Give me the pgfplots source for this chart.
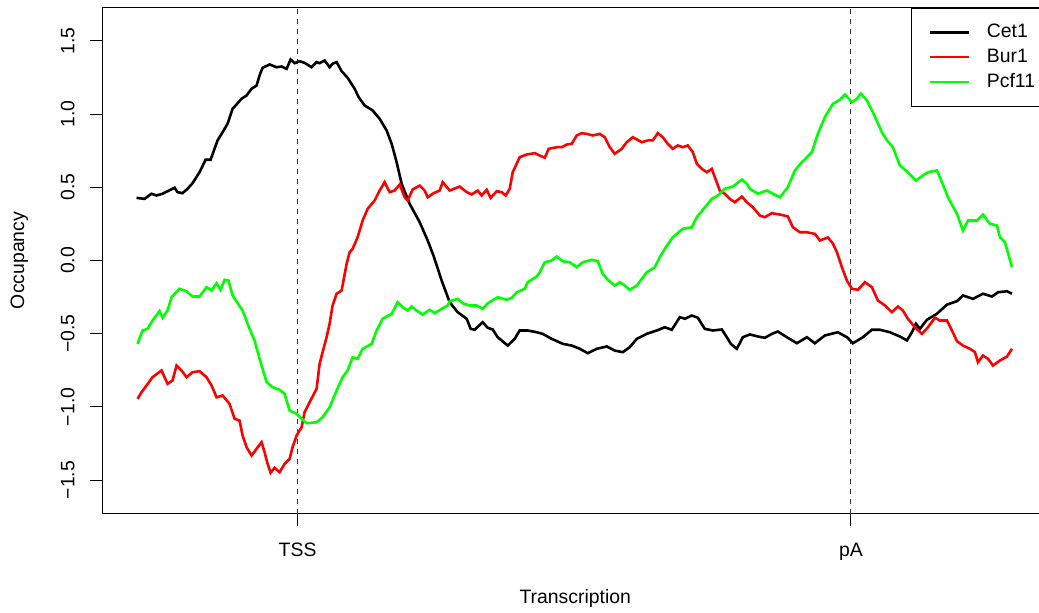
\documentclass[border=0pt]{standalone}
\usepackage{pgfplots}
\usepackage{pgfplotstable}
\pgfplotsset{compat=1.18}
\usepackage{fontspec}
\setmainfont{Liberation Sans}

% Occupancy profiles along the meta-gene (x: position, TSS at 298, pA at 851)
\pgfplotstableread{
x y
137 0.428
145 0.421
152 0.456
157 0.444
163 0.456
168 0.473
175 0.497
178 0.467
183 0.460
188 0.490
193 0.528
200 0.603
206 0.688
211 0.688
215 0.763
218 0.820
223 0.876
228 0.934
233 1.036
237 1.066
242 1.105
247 1.127
252 1.173
257 1.195
260 1.264
263 1.316
270 1.339
277 1.320
282 1.325
287 1.309
291 1.373
295 1.348
300 1.361
305 1.350
312 1.320
317 1.355
320 1.348
325 1.366
330 1.320
333 1.344
337 1.355
342 1.293
348 1.248
355 1.173
359 1.116
365 1.059
373 1.025
380 0.968
387 0.888
392 0.797
397 0.671
402 0.524
410 0.387
420 0.262
428 0.137
434 0.030
442 -0.137
450 -0.285
458 -0.353
467 -0.398
471 -0.467
475 -0.473
483 -0.421
488 -0.460
493 -0.471
498 -0.524
508 -0.581
515 -0.535
520 -0.478
528 -0.478
537 -0.490
543 -0.501
552 -0.535
563 -0.569
572 -0.581
580 -0.603
588 -0.633
597 -0.603
607 -0.587
615 -0.615
623 -0.626
630 -0.592
637 -0.535
647 -0.501
657 -0.478
665 -0.456
672 -0.473
680 -0.387
685 -0.398
692 -0.376
698 -0.391
705 -0.467
713 -0.478
722 -0.471
727 -0.524
731 -0.569
737 -0.603
743 -0.524
750 -0.505
758 -0.519
765 -0.528
772 -0.501
778 -0.485
787 -0.524
797 -0.565
807 -0.524
815 -0.565
825 -0.512
838 -0.490
847 -0.524
853 -0.565
863 -0.524
872 -0.473
880 -0.473
890 -0.490
900 -0.519
907 -0.546
912 -0.490
916 -0.432
920 -0.467
927 -0.405
937 -0.364
947 -0.301
957 -0.278
963 -0.239
973 -0.262
983 -0.227
992 -0.246
998 -0.217
1007 -0.210
1012 -0.227
}\cetone

\pgfplotstableread{
x y
138 -0.945
142 -0.900
147 -0.854
153 -0.797
162 -0.751
168 -0.842
173 -0.820
177 -0.717
182 -0.751
187 -0.797
193 -0.763
200 -0.756
207 -0.797
212 -0.854
217 -0.934
223 -0.922
230 -0.979
235 -1.081
240 -1.093
243 -1.195
247 -1.275
252 -1.332
257 -1.286
262 -1.241
265 -1.309
268 -1.389
271 -1.450
275 -1.416
280 -1.446
285 -1.389
290 -1.355
293 -1.275
297 -1.195
302 -1.139
305 -1.036
310 -0.968
317 -0.876
320 -0.706
323 -0.626
327 -0.524
330 -0.432
333 -0.307
337 -0.227
342 -0.205
347 -0.023
350 0.057
353 0.080
358 0.159
363 0.273
368 0.353
375 0.410
380 0.478
385 0.535
390 0.467
395 0.478
400 0.519
405 0.432
408 0.410
413 0.485
420 0.512
425 0.478
428 0.432
434 0.460
440 0.478
443 0.535
450 0.478
460 0.505
467 0.467
472 0.451
478 0.478
482 0.444
487 0.483
491 0.428
497 0.473
502 0.467
506 0.444
510 0.490
513 0.603
520 0.706
527 0.724
535 0.733
540 0.717
545 0.702
549 0.763
557 0.774
562 0.774
567 0.792
572 0.797
577 0.854
582 0.870
587 0.865
593 0.854
600 0.865
605 0.842
610 0.774
615 0.729
622 0.763
627 0.808
633 0.842
642 0.808
648 0.820
653 0.820
658 0.870
663 0.842
668 0.797
673 0.763
678 0.786
683 0.774
688 0.786
693 0.740
697 0.661
702 0.626
707 0.603
712 0.626
715 0.569
720 0.478
725 0.456
730 0.421
735 0.398
742 0.437
747 0.398
753 0.364
760 0.307
765 0.296
772 0.323
780 0.314
788 0.301
793 0.227
800 0.193
807 0.193
815 0.182
820 0.137
828 0.157
833 0.116
837 0.057
842 -0.046
847 -0.137
852 -0.193
858 -0.200
865 -0.148
872 -0.182
878 -0.273
885 -0.307
892 -0.353
898 -0.314
903 -0.342
908 -0.398
915 -0.456
922 -0.501
928 -0.456
935 -0.391
940 -0.410
947 -0.410
952 -0.478
957 -0.551
963 -0.581
970 -0.603
975 -0.626
978 -0.695
983 -0.649
988 -0.671
993 -0.717
1000 -0.683
1007 -0.656
1012 -0.603
}\burone

\pgfplotstableread{
x y
138 -0.569
143 -0.478
148 -0.467
153 -0.410
160 -0.346
163 -0.391
168 -0.342
172 -0.251
180 -0.193
187 -0.210
193 -0.246
200 -0.246
207 -0.182
212 -0.205
217 -0.155
221 -0.200
225 -0.132
229 -0.137
233 -0.239
243 -0.342
250 -0.467
255 -0.546
260 -0.671
267 -0.831
273 -0.865
280 -0.883
285 -0.911
290 -1.025
297 -1.047
302 -1.081
307 -1.111
317 -1.105
323 -1.070
330 -1.002
337 -0.888
343 -0.797
348 -0.751
353 -0.661
358 -0.671
363 -0.603
372 -0.569
377 -0.478
383 -0.398
392 -0.364
398 -0.285
403 -0.319
408 -0.342
412 -0.314
417 -0.342
423 -0.369
430 -0.337
435 -0.360
442 -0.330
448 -0.307
450 -0.278
458 -0.262
463 -0.292
470 -0.307
477 -0.307
483 -0.330
488 -0.292
498 -0.251
507 -0.268
512 -0.255
517 -0.217
525 -0.193
528 -0.148
537 -0.109
540 -0.080
545 -0.012
552 0.000
557 0.027
563 -0.005
570 -0.012
577 -0.046
583 -0.012
592 0.005
598 -0.005
603 -0.091
608 -0.132
615 -0.171
620 -0.148
625 -0.171
630 -0.200
637 -0.171
647 -0.080
655 -0.046
660 0.023
665 0.080
673 0.159
683 0.217
692 0.227
697 0.296
703 0.346
712 0.421
718 0.444
725 0.490
733 0.505
742 0.553
747 0.524
750 0.490
758 0.456
767 0.478
773 0.456
780 0.432
788 0.501
795 0.615
802 0.671
812 0.740
818 0.865
825 0.979
833 1.070
840 1.098
845 1.134
852 1.081
857 1.105
861 1.139
867 1.093
873 1.013
882 0.876
887 0.820
893 0.774
900 0.649
908 0.603
916 0.546
923 0.581
928 0.603
937 0.615
942 0.535
948 0.432
957 0.319
963 0.205
968 0.273
977 0.273
983 0.314
990 0.251
997 0.239
1000 0.159
1005 0.125
1012 -0.046
}\pcfeleven

\begin{document}
\begin{tikzpicture}
\begin{axis}[
  at={(0,0)}, anchor=south west,
  scale only axis, width=472.75pt, height=253pt,
  xmin=103, xmax=1048, ymin=-1.728, ymax=1.728,
  axis line style={black, line width=0.5pt},
  xtick={298,851}, xticklabels={TSS,pA},
  ytick={-1.5,-1,-0.5,0,0.5,1,1.5},
  yticklabels={−1.5,−1.0,−0.5,0.0,0.5,1.0,1.5},
  tick pos=left, tick align=outside, major tick length=6pt,
  tick style={black, line width=0.5pt},
  tick label style={font=\fontsize{9.7}{11.6}\selectfont},
  yticklabel style={rotate=90, anchor=south, inner sep=0pt},
  xticklabel style={anchor=north, inner sep=0pt},
  yticklabel shift=7.75pt,
  xticklabel shift=8.75pt,
  xlabel={Transcription}, ylabel={Occupancy},
  every axis x label/.style={at={(axis description cs:0.5,-0.1769)}, anchor=base, font=\fontsize{9.7}{11.6}\selectfont},
  every axis y label/.style={at={(axis description cs:-0.0830,0.5)}, rotate=90, anchor=base, font=\fontsize{9.7}{11.6}\selectfont},
  legend cell align=left,
  legend style={at={(1,1)}, anchor=north east, draw=black, line width=0.5pt, fill=white,
    inner xsep=6.2pt, inner ysep=8pt, row sep=4.15pt, column sep=8.5pt,
    font=\fontsize{9.7}{11.6}\selectfont, nodes={inner sep=0pt}},
  legend image code/.code={\path (0pt,0pt); \draw[#1] (2.45pt,0pt) -- (21.95pt,0pt);},
]
% reference positions of TSS and polyadenylation site
\addplot[black!80, line width=0.5pt, dash pattern=on 2.5pt off 2.5pt, forget plot]
  coordinates {(298,-1.728) (298,1.728)};
\addplot[black!80, line width=0.5pt, dash pattern=on 2.5pt off 2.5pt, forget plot]
  coordinates {(851,-1.728) (851,1.728)};

\addplot[black, line width=1.3pt] table[x=x, y=y] {\cetone};
\addlegendentry{Cet1}
\addplot[red, line width=1.3pt] table[x=x, y=y] {\burone};
\addlegendentry{Bur1}
\addplot[green, line width=1.3pt] table[x=x, y=y] {\pcfeleven};
\addlegendentry{Pcf11}
\end{axis}
\pgfresetboundingbox
\useasboundingbox (-51.25pt,-49.25pt) rectangle (468.25pt,256.75pt);
\end{tikzpicture}
\end{document}
